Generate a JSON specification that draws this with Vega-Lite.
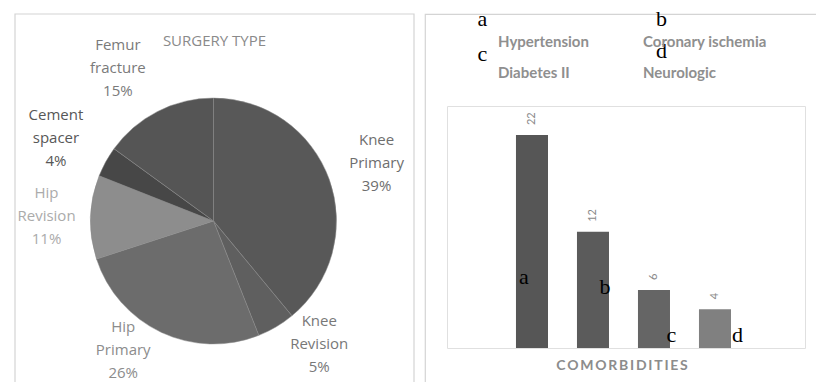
{
  "$schema": "https://vega.github.io/schema/vega-lite/v6.json",
  "padding": {"left": 14, "top": 7, "right": 1, "bottom": 0},
  "background": "white",
  "spacing": 9,
  "config": {"view": {"stroke": "#d4d4d4", "strokeWidth": 1.2}, "font": "Open Sans"},
  "hconcat": [
    {
      "width": 399,
      "height": 370,
      "title": {"text": "SURGERY TYPE", "offset": -36, "color": "#8a8a8a", "fontSize": 15, "fontWeight": "normal", "font": "Open Sans", "anchor": "middle"},
      "layer": [
        {
          "data": {"values": [{}]},
          "mark": {"type": "rect", "fillOpacity": 0, "stroke": "#d4d4d4", "strokeWidth": 1.2},
          "encoding": {}
        },
        {
          "data": {"values": [
            {"type": "Knee Primary", "pct": 39, "label": "Knee\nPrimary\n39%"},
            {"type": "Knee Revision", "pct": 5, "label": "Knee\nRevision\n5%"},
            {"type": "Hip Primary", "pct": 26, "label": "Hip\nPrimary\n26%"},
            {"type": "Hip Revision", "pct": 11, "label": "Hip\nRevision\n11%"},
            {"type": "Cement spacer", "pct": 4, "label": "Cement\nspacer\n4%"},
            {"type": "Femur fracture", "pct": 15, "label": "Femur\nfracture\n15%"}
          ]},
          "transform": [{"window": [{"op": "row_number", "as": "rn"}]}],
          "layer": [
            {
              "mark": {"type": "arc", "radius": 123, "xOffset": -1, "yOffset": 22, "stroke": "#8a8a8a", "strokeWidth": 0.5},
              "encoding": {
                "theta": {"field": "pct", "type": "quantitative", "stack": true},
                "order": {"field": "rn", "type": "quantitative"},
                "color": {"field": "type", "type": "nominal", "legend": null,
                  "scale": {"domain": ["Knee Primary", "Knee Revision", "Hip Primary", "Hip Revision", "Cement spacer", "Femur fracture"],
                            "range": ["#585858", "#5f5f5f", "#6c6c6c", "#8d8d8d", "#474747", "#555555"]}}
              }
            },
            {
              "mark": {"type": "text", "radius": 167, "xOffset": -1, "yOffset": 22,
                "dx": {"expr": "55*sin(PI*(datum.pct_start+datum.pct_end)/100)*pow(cos(PI*(datum.pct_start+datum.pct_end)/100),2)"},
                "dy": {"expr": "-23+24*min(0,cos(PI*(datum.pct_start+datum.pct_end)/100))-5*max(0,cos(PI*(datum.pct_start+datum.pct_end)/100))"},
                "lineBreak": "\n", "lineHeight": 23, "fontSize": 15, "font": "Open Sans", "align": "center", "baseline": "middle"},
              "encoding": {
                "theta": {"field": "pct", "type": "quantitative", "stack": true},
                "order": {"field": "rn", "type": "quantitative"},
                "text": {"field": "label", "type": "nominal"},
                "color": {"field": "type", "type": "nominal", "legend": null,
                  "scale": {"domain": ["Knee Primary", "Knee Revision", "Hip Primary", "Hip Revision", "Cement spacer", "Femur fracture"],
                            "range": ["#6e6e6e", "#787878", "#8c8c8c", "#ababab", "#575757", "#7a7a7a"]}}
              }
            }
          ],
          "resolve": {"scale": {"color": "independent"}}
        }
      ]
    },
    {
      "width": 392,
      "height": 370,
      "data": {"values": [
        {"cat": "Hypertension", "n": 22},
        {"cat": "Coronary ischemia", "n": 12},
        {"cat": "Diabetes II", "n": 6},
        {"cat": "Neurologic", "n": 4}
      ]},
      "layer": [
        {
          "mark": {"type": "bar"},
          "encoding": {
            "x": {"field": "cat", "type": "nominal", "sort": null,
              "scale": {"domain": ["", "Hypertension", "Coronary ischemia", "Diabetes II", "Neurologic", " "], "range": [22, 380], "paddingInner": 0.475, "paddingOuter": 0.172, "align": 0.38, "round": false},
              "axis": {"orient": "bottom", "offset": -36, "labels": false, "ticks": false, "domain": false,
                "title": "C\u2009O\u2009M\u2009O\u2009R\u2009B\u2009I\u2009D\u2009I\u2009T\u2009I\u2009E\u2009S",
                "titleFont": "Lato", "titleFontSize": 14, "titleFontWeight": "bold", "titleColor": "#8c8c8c", "titlePadding": 10, "titleX": 196.5}},
            "y": {"field": "n", "type": "quantitative",
              "scale": {"domain": [0, 25], "range": [334, 92], "nice": false},
              "axis": {"orient": "left", "offset": -22, "values": [0, 25], "grid": true, "gridColor": "#e0e0e0", "domain": true, "domainColor": "#e0e0e0", "ticks": false, "labels": false, "title": null}},
            "color": {"field": "cat", "type": "nominal", "sort": null,
              "scale": {"domain": ["Hypertension", "Coronary ischemia", "Diabetes II", "Neurologic"], "range": ["#565656", "#5b5b5b", "#656565", "#808080"]},
              "legend": {"orient": "none", "legendX": 468, "legendY": 20, "columns": 2, "direction": "horizontal", "title": null,
                "symbolSize": 0, "symbolStrokeWidth": 0, "symbolOpacity": 0, "labelOffset": 0,
                "labelFont": "Lato", "labelFontSize": 15, "labelFontWeight": "bold", "labelColor": "#8f8f8f",
                "columnPadding": 39, "rowPadding": 15, "labelLimit": 300}}
          }
        },
        {
          "mark": {"type": "text", "angle": 270, "align": "left", "baseline": "middle", "dx": 10, "fontSize": 11, "color": "#8a8a8a", "font": "Lato"},
          "encoding": {
            "x": {"field": "cat", "type": "nominal", "sort": null},
            "y": {"field": "n", "type": "quantitative",
              "axis": {"orient": "right", "offset": -12, "grid": false, "domain": true, "domainColor": "#e0e0e0", "ticks": false, "labels": false, "title": null}},
            "text": {"field": "n", "type": "quantitative"}
          }
        },
        {
          "data": {"values": [{"t": "a"}]},
          "mark": {"type": "text", "font": "Liberation Serif", "fontSize": 22, "color": "black", "dx": -49.5, "baseline": "middle"},
          "encoding": {"x": {"datum": "Hypertension"}, "y": {"datum": 34.0, "axis": null}, "text": {"field": "t"}}
        },
        {
          "data": {"values": [{"t": "c"}]},
          "mark": {"type": "text", "font": "Liberation Serif", "fontSize": 22, "color": "black", "dx": -49.5, "baseline": "middle"},
          "encoding": {"x": {"datum": "Hypertension"}, "y": {"datum": 30.4, "axis": null}, "text": {"field": "t"}}
        },
        {
          "data": {"values": [{"t": "b"}]},
          "mark": {"type": "text", "font": "Liberation Serif", "fontSize": 22, "color": "black", "dx": 68.5, "baseline": "middle"},
          "encoding": {"x": {"datum": "Coronary ischemia"}, "y": {"datum": 34.0, "axis": null}, "text": {"field": "t"}}
        },
        {
          "data": {"values": [{"t": "d"}]},
          "mark": {"type": "text", "font": "Liberation Serif", "fontSize": 22, "color": "black", "dx": 68.5, "baseline": "middle"},
          "encoding": {"x": {"datum": "Coronary ischemia"}, "y": {"datum": 30.7, "axis": null}, "text": {"field": "t"}}
        },
        {
          "data": {"values": [{"t": "a"}]},
          "mark": {"type": "text", "font": "Liberation Serif", "fontSize": 22, "color": "black", "dx": -8, "baseline": "middle"},
          "encoding": {"x": {"datum": "Hypertension"}, "y": {"datum": 7.3, "axis": null}, "text": {"field": "t"}}
        },
        {
          "data": {"values": [{"t": "b"}]},
          "mark": {"type": "text", "font": "Liberation Serif", "fontSize": 22, "color": "black", "dx": 12, "baseline": "middle"},
          "encoding": {"x": {"datum": "Coronary ischemia"}, "y": {"datum": 6.3, "axis": null}, "text": {"field": "t"}}
        },
        {
          "data": {"values": [{"t": "c"}]},
          "mark": {"type": "text", "font": "Liberation Serif", "fontSize": 22, "color": "black", "dx": 17.5, "baseline": "middle"},
          "encoding": {"x": {"datum": "Diabetes II"}, "y": {"datum": 1.3, "axis": null}, "text": {"field": "t"}}
        },
        {
          "data": {"values": [{"t": "d"}]},
          "mark": {"type": "text", "font": "Liberation Serif", "fontSize": 22, "color": "black", "dx": 22.5, "baseline": "middle"},
          "encoding": {"x": {"datum": "Neurologic"}, "y": {"datum": 1.3, "axis": null}, "text": {"field": "t"}}
        }
      ],
      "resolve": {"axis": {"y": "independent"}}
    }
  ]
}
